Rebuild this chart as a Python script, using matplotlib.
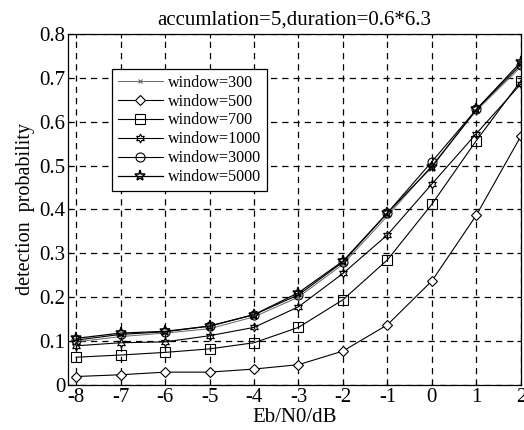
import matplotlib
matplotlib.use("Agg")
import matplotlib.pyplot as plt

# Eb/N0 in dB
snr = [-8, -7, -6, -5, -4, -3, -2, -1, 0, 1, 2]

# detection probability
w300 = [0.098, 0.110, 0.118, 0.128, 0.155, 0.200, 0.275, 0.385, 0.500, 0.625, 0.725]
w500 = [0.019, 0.023, 0.029, 0.029, 0.036, 0.046, 0.077, 0.137, 0.237, 0.387, 0.567]
w700 = [0.063, 0.068, 0.074, 0.082, 0.096, 0.131, 0.194, 0.285, 0.412, 0.557, 0.693]
w1000 = [0.089, 0.096, 0.098, 0.112, 0.131, 0.178, 0.254, 0.342, 0.458, 0.573, 0.686]
w3000 = [0.102, 0.115, 0.121, 0.134, 0.160, 0.205, 0.280, 0.392, 0.509, 0.628, 0.730]
w5000 = [0.106, 0.118, 0.122, 0.134, 0.160, 0.210, 0.282, 0.392, 0.497, 0.628, 0.736]

labels = ["window=300", "window=500", "window=700",
          "window=1000", "window=3000", "window=5000"]

plt.rcParams['font.family'] = ['Liberation Serif', 'DejaVu Serif']

fig = plt.figure(figsize=(5.24, 4.30), dpi=100)
ax = fig.add_axes([0.130, 0.105, 0.864, 0.816])

# series drawn in order, each with its own marker
ax.plot(snr, w300, color='0.4', lw=0.7, marker='x', ms=3, mew=0.8, label=labels[0])
ax.plot(snr, w500, color='k', lw=0.8, marker='D', ms=5.5, mfc='white', mew=0.8, label=labels[1])
ax.plot(snr, w700, color='k', lw=0.8, marker='s', ms=6.5, mfc='none', mew=0.8, label=labels[2])
ax.plot(snr, w1000, color='k', lw=0.8, marker=(6, 1, 0), ms=6.5, mfc='none', mew=0.8, label=labels[3])
ax.plot(snr, w3000, color='k', lw=0.8, marker='o', ms=6.5, mfc='none', mew=0.8, label=labels[4])
ax.plot(snr, w5000, color='k', lw=0.9, marker='*', ms=8, mfc='none', mew=1.1, label=labels[5])

ax.set_xlim(-8.18, 2)
ax.set_ylim(0, 0.8)
ax.set_xticks(snr)
ax.set_xticklabels([str(v) for v in snr])
ax.set_yticks([0, 0.1, 0.2, 0.3, 0.4, 0.5, 0.6, 0.7, 0.8])
ax.set_yticklabels(["0", "0.1", "0.2", "0.3", "0.4", "0.5", "0.6", "0.7", "0.8"])
ax.tick_params(direction='in', top=True, right=True, labelsize=15, length=3, pad=2)
ax.grid(True, color='k', linestyle=(0, (5, 4)), linewidth=0.9)

ax.set_title("accumlation=5,duration=0.6*6.3", fontsize=15, pad=7)
ax.set_xlabel("Eb/N0/dB", fontsize=15, labelpad=1)
ax.set_ylabel("detection  probability", fontsize=14.5, labelpad=3)

leg = ax.legend(loc='upper left', bbox_to_anchor=(0.097, 0.90), fontsize=11.6,
                frameon=True, fancybox=False, edgecolor='k', framealpha=1,
                borderaxespad=0, handlelength=2.8, labelspacing=0.18,
                borderpad=0.35, handletextpad=0.3)
leg.get_frame().set_linewidth(0.9)

for s in ax.spines.values():
    s.set_linewidth(0.9)

fig.savefig("out.png", dpi=100)
